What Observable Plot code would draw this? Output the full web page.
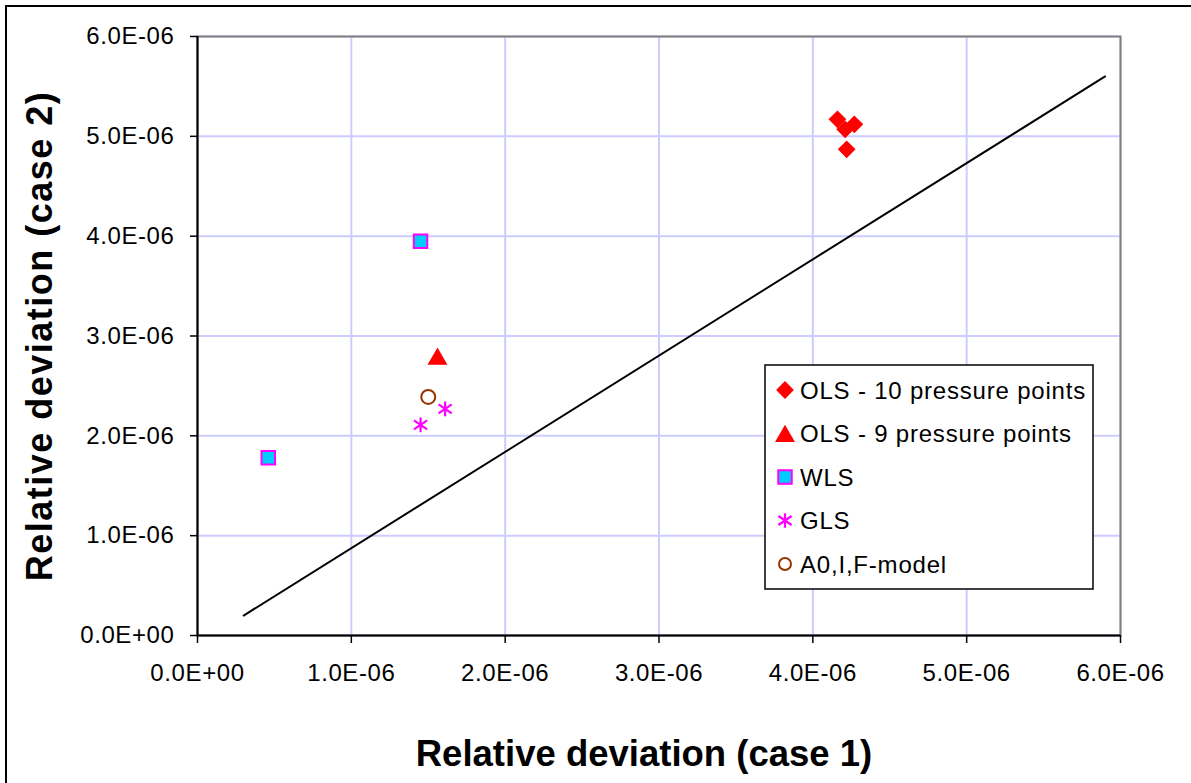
<!DOCTYPE html>
<html>
<head>
<meta charset="utf-8">
<script src="https://cdn.jsdelivr.net/npm/d3@7"></script>
<script src="https://cdn.jsdelivr.net/npm/@observablehq/plot@0.6"></script>
<style>
  html, body { margin: 0; padding: 0; background: #fff; overflow: hidden; }
  #wrap { position: relative; width: 1191px; height: 783px; font-family: "Liberation Sans", Arial, sans-serif; }
  #border { position: absolute; left: 5px; top: 5px; width: 1400px; height: 1000px; border: 2px solid #000; box-sizing: border-box; }
  #chart { position: absolute; left: 0; top: 0; }
  #overlay { position: absolute; left: 0; top: 0; pointer-events: none; }
  #chart svg text { letter-spacing: 0.6px; }
</style>
</head>
<body>
<div id="wrap">
  <div id="border"></div>
  <div id="chart"></div>
  <svg id="overlay" width="1191" height="783"></svg>
</div>
<script>
// ---- Data ----
const xTicks = [0, 1e-6, 2e-6, 3e-6, 4e-6, 5e-6, 6e-6];
const yTicks = [0, 1e-6, 2e-6, 3e-6, 4e-6, 5e-6, 6e-6];

const seriesNames = ["OLS - 10 pressure points", "OLS - 9 pressure points", "WLS", "GLS", "A0,I,F-model"];

const ols10X = [4.16e-6, 4.27e-6, 4.21e-6, 4.22e-6];
const ols10Y = [5.17e-6, 5.12e-6, 5.07e-6, 4.87e-6];

const ols9X = [1.56e-6];
const ols9Y = [2.77e-6];

const wlsX = [1.45e-6, 0.46e-6];
const wlsY = [3.95e-6, 1.78e-6];

const glsX = [1.61e-6, 1.45e-6];
const glsY = [2.27e-6, 2.11e-6];

const a0X = [1.50e-6];
const a0Y = [2.39e-6];

// reference line endpoints
const refLineX = [0.3e-6, 5.9e-6];
const refLineY = [0.2e-6, 5.6e-6];

const xTitle = "Relative deviation (case 1)";
const yTitle = "Relative deviation (case 2)";

// ---- helpers ----
function fmt(d) {
  const s = (+d).toExponential(1);
  const [m, e] = s.split("e");
  const n = Math.abs(+e);
  return m + "E" + (e.startsWith("-") ? "-" : "+") + String(n).padStart(2, "0");
}
const pts = (xs, ys) => xs.map((x, i) => ({x, y: ys[i]}));

// Excel-style star marker: vertical stroke plus an X
const excelStar = {
  draw(context, size) {
    const r = Math.sqrt(size / Math.PI);
    const a = r * 0.9, b = r * 0.62;
    context.moveTo(0, -r); context.lineTo(0, r);
    context.moveTo(-a, -b); context.lineTo(a, b);
    context.moveTo(-a, b); context.lineTo(a, -b);
  }
};

const styles = [
  {symbol: "diamond2", fill: "#ff0000", stroke: "none", strokeWidth: 0, r: 8},
  {symbol: "triangle", fill: "#ff0000", stroke: "none", strokeWidth: 0, r: 7.4},
  {symbol: "square", fill: "#00ccff", stroke: "#ff00ff", strokeWidth: 2, r: 7.6},
  {symbol: excelStar, fill: "none", stroke: "#ff00ff", strokeWidth: 2.2, r: 7.3},
  {symbol: "circle", fill: "none", stroke: "#993300", strokeWidth: 2, r: 7}
];
const seriesData = [pts(ols10X, ols10Y), pts(ols9X, ols9Y), pts(wlsX, wlsY), pts(glsX, glsY), pts(a0X, a0Y)];

const chart = Plot.plot({
  width: 1191,
  height: 783,
  marginLeft: 197,
  marginRight: 71,
  marginTop: 36,
  marginBottom: 148,
  x: {domain: [0, 6e-6]},
  y: {domain: [0, 6e-6]},
  style: {fontFamily: "'Liberation Sans', Arial, sans-serif", fontSize: "24px", color: "#000", background: "transparent", overflow: "visible"},
  marks: [
    Plot.gridX(xTicks, {stroke: "#ccccff", strokeOpacity: 1, strokeWidth: 2}),
    Plot.gridY(yTicks, {stroke: "#ccccff", strokeOpacity: 1, strokeWidth: 2}),
    Plot.frame({stroke: "#808080", strokeWidth: 2}),
    Plot.ruleX([0], {stroke: "#000", strokeWidth: 2}),
    Plot.ruleY([0], {stroke: "#000", strokeWidth: 2}),
    Plot.axisX({ticks: xTicks, tickFormat: fmt, tickSize: 8, tickPadding: 20, fontSize: 24, label: null, strokeWidth: 1.5}),
    Plot.axisY({ticks: yTicks, tickFormat: fmt, tickSize: 7, tickPadding: 16, fontSize: 24, label: null, strokeWidth: 1.5}),
    Plot.line(pts(refLineX, refLineY), {x: "x", y: "y", stroke: "#000", strokeWidth: 2}),
    ...seriesData.map((data, i) => Plot.dot(data, {
      x: "x", y: "y",
      symbol: styles[i].symbol,
      fill: styles[i].fill,
      stroke: styles[i].stroke,
      strokeWidth: styles[i].strokeWidth,
      r: styles[i].r
    }))
  ]
});
document.getElementById("chart").appendChild(chart);

// ---- titles and legend ----
const ov = d3.select("#overlay");
ov.append("text")
  .attr("x", 644).attr("y", 766)
  .attr("text-anchor", "middle")
  .style("font-family", "'Liberation Sans', Arial, sans-serif")
  .style("font-weight", "bold").style("font-size", "36.5px")
  .text(xTitle);
ov.append("text")
  .attr("transform", "translate(52,336) rotate(-90)")
  .attr("text-anchor", "middle")
  .style("font-family", "'Liberation Sans', Arial, sans-serif")
  .style("font-weight", "bold").style("font-size", "36px")
  .style("letter-spacing", "1.5px")
  .text(yTitle);

const lg = ov.append("g").attr("transform", "translate(765,365)");
lg.append("rect").attr("x", 0).attr("y", 0).attr("width", 328).attr("height", 224)
  .attr("fill", "#fff").attr("stroke", "#000").attr("stroke-width", 1.5);
const symMap = {diamond2: d3.symbolDiamond2, triangle: d3.symbolTriangle, square: d3.symbolSquare, circle: d3.symbolCircle};
const rowY = [25, 68.5, 112, 155.5, 199];
seriesNames.forEach((name, i) => {
  const s = styles[i];
  const rr = s.symbol === "circle" ? 6 : s.r;
  const ty = s.symbol === "triangle" ? 2.8 : 0;
  const type = typeof s.symbol === "string" ? symMap[s.symbol] : s.symbol;
  lg.append("path")
    .attr("transform", `translate(20,${rowY[i] + ty})`)
    .attr("d", d3.symbol(type, Math.PI * rr * rr)())
    .attr("fill", s.fill).attr("stroke", s.stroke).attr("stroke-width", s.strokeWidth);
  lg.append("text")
    .attr("x", 35).attr("y", rowY[i]).attr("dy", "0.36em")
    .style("font-family", "'Liberation Sans', Arial, sans-serif")
    .style("font-size", "24px").style("letter-spacing", "0.8px")
    .text(name);
});
</script>
</body>
</html>
